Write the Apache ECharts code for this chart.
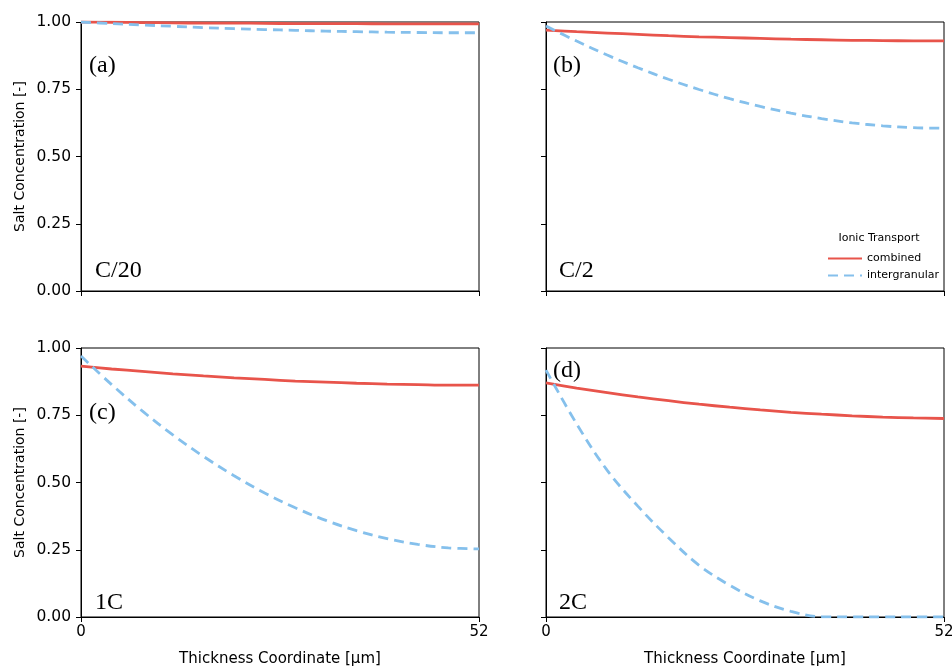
<!DOCTYPE html>
<html>
<head>
<meta charset="utf-8">
<script src="https://cdn.jsdelivr.net/npm/echarts@6/dist/echarts.min.js"></script>
<style>
  html, body { margin: 0; padding: 0; background: #fff; }
  #main { width: 952px; height: 669px; }
</style>
</head>
<body>
<div id="main"></div>
<script>
var thickness = [0, 4, 8, 12, 16, 20, 24, 28, 32, 36, 40, 44, 48, 52];

// (a) C/20
var combinedA = [1.000, 0.999, 0.998, 0.997, 0.996, 0.996, 0.995, 0.994, 0.994, 0.994, 0.993, 0.993, 0.993, 0.993];
var intergranularA = [1.000, 0.994, 0.989, 0.984, 0.979, 0.975, 0.972, 0.969, 0.966, 0.964, 0.962, 0.961, 0.960, 0.960];
// (b) C/2
var combinedB = [0.970, 0.964, 0.959, 0.954, 0.949, 0.945, 0.942, 0.939, 0.936, 0.934, 0.932, 0.931, 0.930, 0.930];
var intergranularB = [0.985, 0.929, 0.877, 0.830, 0.787, 0.749, 0.715, 0.686, 0.661, 0.641, 0.625, 0.614, 0.607, 0.605];
// (c) 1C
var combinedC = [0.933, 0.922, 0.913, 0.904, 0.896, 0.889, 0.883, 0.877, 0.873, 0.869, 0.866, 0.864, 0.862, 0.862];
var intergranularC = [0.970, 0.864, 0.766, 0.677, 0.597, 0.525, 0.461, 0.406, 0.359, 0.321, 0.291, 0.270, 0.257, 0.253];
// (d) 2C
var combinedD = [0.870, 0.851, 0.834, 0.818, 0.804, 0.791, 0.780, 0.770, 0.761, 0.754, 0.748, 0.743, 0.740, 0.738];
var intergranularD = [0.918, 0.718, 0.545, 0.412, 0.295, 0.192, 0.118, 0.060, 0.021, 0.001, 0.000, 0.000, 0.000, 0.000];

var panelTags = ["(a)", "(b)", "(c)", "(d)"];
var rateTags = ["C/20", "C/2", "1C", "2C"];

var combined = [combinedA, combinedB, combinedC, combinedD];
var intergranular = [intergranularA, intergranularB, intergranularC, intergranularD];

var RED = "#e8544b";
var BLUE = "#85c0ec";
var SANS = "DejaVu Sans";
var SERIF = "Liberation Serif";

var chartDom = document.getElementById("main");
var myChart = echarts.init(chartDom);

var boxes = [
  { left: 81, top: 22 },
  { left: 546, top: 22 },
  { left: 81, top: 348 },
  { left: 546, top: 348 }
];
var W = 398, H = 269;

function pairs(ys) {
  return thickness.map(function (x, i) { return [x, ys[i]]; });
}

var grids = [], xAxes = [], yAxes = [], series = [], graphics = [];

boxes.forEach(function (b, i) {
  var bottomRow = i >= 2;
  var leftCol = i % 2 === 0;
  grids.push({
    left: b.left, top: b.top, width: W, height: H,
    outerBoundsMode: "none",
    show: true, borderColor: "#000", borderWidth: 1, backgroundColor: "#fff"
  });
  xAxes.push({
    type: "value", gridIndex: i, min: 0, max: 52, interval: 52,
    name: bottomRow ? "Thickness Coordinate [\u03bcm]" : "",
    nameLocation: "middle", nameGap: 35,
    nameTextStyle: { fontFamily: SANS, fontSize: 15, color: "#000" },
    axisLine: { show: true, onZero: false, lineStyle: { color: "#000", width: 1 } },
    axisTick: { show: true, length: 5, lineStyle: { color: "#000" } },
    axisLabel: { show: bottomRow, fontFamily: SANS, fontSize: 15, color: "#000", margin: 8 },
    splitLine: { show: false }
  });
  yAxes.push({
    type: "value", gridIndex: i, min: 0, max: 1, interval: 0.25,
    name: leftCol ? "Salt Concentration [-]" : "",
    nameLocation: "middle", nameGap: 54,
    nameTextStyle: { fontFamily: SANS, fontSize: 14, color: "#000" },
    axisLine: { show: true, lineStyle: { color: "#000", width: 1 } },
    axisTick: { show: true, length: 5, lineStyle: { color: "#000" } },
    axisLabel: {
      show: leftCol, fontFamily: SANS, fontSize: 15.5, color: "#000", margin: 10,
      formatter: function (v) { return v.toFixed(2); }
    },
    splitLine: { show: false }
  });
  series.push({
    name: "combined", type: "line", xAxisIndex: i, yAxisIndex: i,
    data: pairs(combined[i]), smooth: 0.35,
    showSymbol: false, symbol: "none", z: 3,
    lineStyle: { color: RED, width: 2.8 }, itemStyle: { color: RED }
  });
  series.push({
    name: "intergranular", type: "line", xAxisIndex: i, yAxisIndex: i,
    data: pairs(intergranular[i]), smooth: 0.35,
    showSymbol: false, symbol: "none", z: 4,
    lineStyle: { color: BLUE, width: 2.8, type: [10, 6] }, itemStyle: { color: BLUE }
  });
});

// panel tags (a)-(d) and C-rates
var tagPos = [[89, 66], [553, 66], [89, 413], [553, 371]];
var ratePos = [[95, 271], [559, 271], [95, 603], [559, 603]];
panelTags.forEach(function (t, i) {
  graphics.push({
    type: "text", x: tagPos[i][0], y: tagPos[i][1], z: 10,
    style: { text: t, font: "24px " + SERIF, fill: "#000", textVerticalAlign: "middle" }
  });
  graphics.push({
    type: "text", x: ratePos[i][0], y: ratePos[i][1], z: 10,
    style: { text: rateTags[i], font: "24px " + SERIF, fill: "#000", textVerticalAlign: "middle" }
  });
});
graphics.push({
  type: "text", x: 879, y: 238, z: 10,
  style: { text: "Ionic Transport", font: "11px " + SANS, fill: "#000", textAlign: "center", textVerticalAlign: "middle" }
});

myChart.setOption({
  animation: false,
  grid: grids,
  xAxis: xAxes,
  yAxis: yAxes,
  legend: {
    data: ["combined", "intergranular"],
    orient: "vertical",
    left: 822, top: 248,
    itemWidth: 34, itemHeight: 10, itemGap: 6,
    itemStyle: { opacity: 0 },
    textStyle: { fontFamily: SANS, fontSize: 11, color: "#000" }
  },
  graphic: graphics,
  series: series
});
</script>
</body>
</html>
